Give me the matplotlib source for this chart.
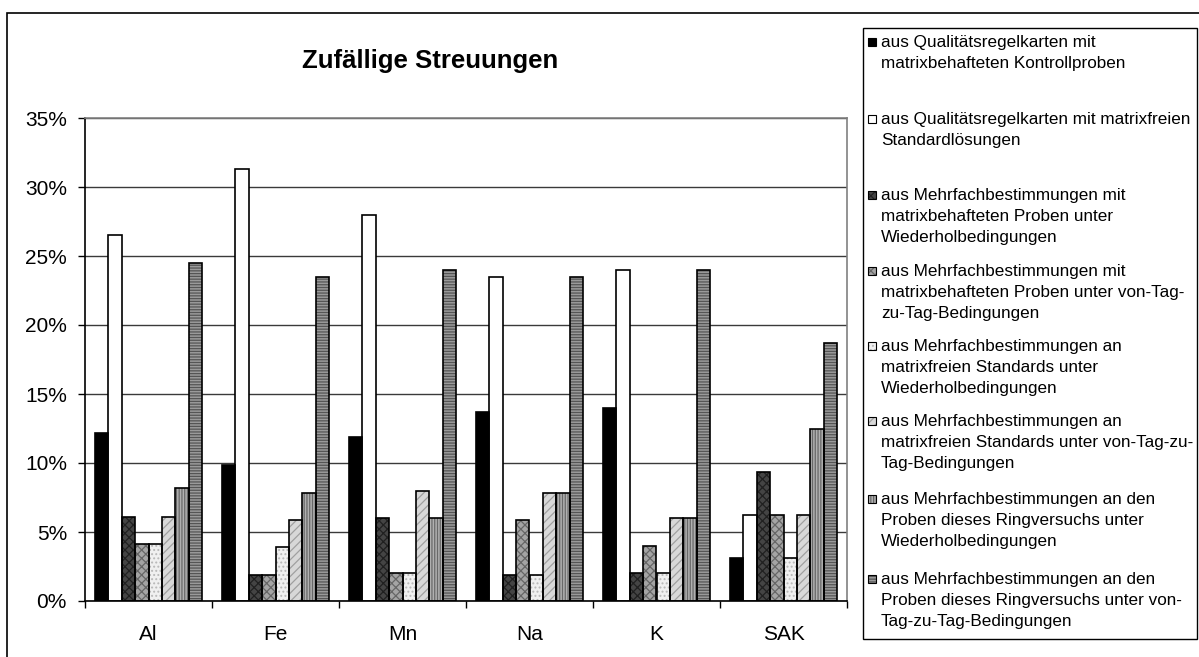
import matplotlib
matplotlib.use("Agg")
import matplotlib.pyplot as plt
from matplotlib.patches import Rectangle
from matplotlib.ticker import FuncFormatter
import numpy as np

plt.rcParams["font.family"] = ["Liberation Sans", "DejaVu Sans"]
plt.rcParams["hatch.linewidth"] = 0.9

W, H = 1199, 657

# ---------- data (percent) ----------
elements = ["Al", "Fe", "Mn", "Na", "K", "SAK"]
qrk_matrix = [12.2, 9.85, 11.9, 13.7, 14.0, 3.1]
qrk_standard = [26.5, 31.3, 28.0, 23.5, 24.0, 6.25]
mb_matrix_wdh = [6.1, 1.9, 6.0, 1.9, 2.0, 9.35]
mb_matrix_tag = [4.1, 1.9, 2.0, 5.9, 4.0, 6.25]
mb_standard_wdh = [4.1, 3.9, 2.0, 1.9, 2.0, 3.1]
mb_standard_tag = [6.1, 5.9, 8.0, 7.8, 6.0, 6.25]
mb_ring_wdh = [8.2, 7.8, 6.0, 7.8, 6.0, 12.5]
mb_ring_tag = [24.5, 23.5, 24.0, 23.5, 24.0, 18.7]

series = [qrk_matrix, qrk_standard, mb_matrix_wdh, mb_matrix_tag,
          mb_standard_wdh, mb_standard_tag, mb_ring_wdh, mb_ring_tag]

labels = [
    "aus Qualitätsregelkarten mit\nmatrixbehafteten Kontrollproben",
    "aus Qualitätsregelkarten mit matrixfreien\nStandardlösungen",
    "aus Mehrfachbestimmungen mit\nmatrixbehafteten Proben unter\nWiederholbedingungen",
    "aus Mehrfachbestimmungen mit\nmatrixbehafteten Proben unter von-Tag-\nzu-Tag-Bedingungen",
    "aus Mehrfachbestimmungen an\nmatrixfreien Standards unter\nWiederholbedingungen",
    "aus Mehrfachbestimmungen an\nmatrixfreien Standards unter von-Tag-zu-\nTag-Bedingungen",
    "aus Mehrfachbestimmungen an den\nProben dieses Ringversuchs unter\nWiederholbedingungen",
    "aus Mehrfachbestimmungen an den\nProben dieses Ringversuchs unter von-\nTag-zu-Tag-Bedingungen",
]

# face colour, hatch, hatch colour (greyscale Excel-like fills)
STYLES = [
    ("#000000", None, None),
    ("#ffffff", None, None),
    ("#444444", "xxxx", "#202020"),
    ("#a4a4a4", "xxxx", "#666666"),
    ("#f0f0f0", "....", "#b8b8b8"),
    ("#d8d8d8", "////", "#a0a0a0"),
    ("#b0b0b0", "||||||", "#686868"),
    ("#9a9a9a", "------", "#555555"),
]

fig = plt.figure(figsize=(W / 100, H / 100), dpi=100)

# outer chart frame (runs off the right/bottom of the picture)
fig.patches.append(Rectangle((7 / W, -0.1), 2.0, 1.1 - 13 / H, transform=fig.transFigure,
                             fill=False, edgecolor="black", linewidth=1.2))

ax = fig.add_axes([85 / W, 1 - 601 / H, (847 - 85) / W, (601 - 118) / H])

x = np.arange(len(elements))
bw = 1 / 9.5
for i, (vals, (fc, hatch, hc)) in enumerate(zip(series, STYLES)):
    pos = x + (i - 3.5) * bw
    ax.bar(pos, vals, bw, color=fc, edgecolor=hc if hatch else fc, hatch=hatch,
           linewidth=0, zorder=2)
    ax.bar(pos, vals, bw, fill=False, edgecolor="black", linewidth=1.2, zorder=3)

ax.set_xlim(-0.5, len(elements) - 0.5)
ax.set_ylim(0, 35)
ax.set_yticks(np.arange(0, 36, 5))
ax.yaxis.set_major_formatter(FuncFormatter(lambda v, p: f"{v:.0f}%"))
ax.set_xticks(x)
ax.set_xticklabels(elements)
ax.set_xticks(np.arange(-0.5, len(elements)), minor=True)
ax.tick_params(axis="x", which="major", length=0, pad=17, labelsize=15)
ax.tick_params(axis="x", which="minor", length=5, width=1, direction="out")
ax.tick_params(axis="y", length=5, width=1, direction="out", pad=8, labelsize=15)

ax.yaxis.grid(True, color="#3a3a3a", linewidth=1.0, zorder=0)
ax.set_axisbelow(True)
for side in ["top", "right"]:
    ax.spines[side].set_color("#808080")
    ax.spines[side].set_linewidth(1.2)
for side in ["left", "bottom"]:
    ax.spines[side].set_color("black")
    ax.spines[side].set_linewidth(1.2)

fig.text(430 / W, 1 - 61 / H, "Zufällige Streuungen", ha="center", va="center",
         fontsize=18.5, fontweight="bold")

# ---------- legend box ----------
fig.patches.append(Rectangle((863 / W, 1 - 639 / H), (1197 - 863) / W, (639 - 28) / H,
                             transform=fig.transFigure, facecolor="white",
                             edgecolor="black", linewidth=1.0))
first_line = [42, 119, 195, 271, 346, 421, 499, 579]
for lab, yc, (fc, hatch, hc) in zip(labels, first_line, STYLES):
    sw = Rectangle((868 / W, 1 - (yc + 4) / H), 8 / W, 8 / H, transform=fig.transFigure,
                   facecolor=fc, edgecolor=hc if hatch else fc, hatch=hatch, linewidth=0)
    fig.patches.append(sw)
    fig.patches.append(Rectangle((868 / W, 1 - (yc + 4) / H), 8 / W, 8 / H,
                                 transform=fig.transFigure, fill=False,
                                 edgecolor="black", linewidth=0.8))
    fig.text(881 / W, 1 - (yc - 7) / H, lab, ha="left", va="top", fontsize=12.3,
             linespacing=1.50)

fig.savefig("out.png", dpi=100, facecolor="white")
